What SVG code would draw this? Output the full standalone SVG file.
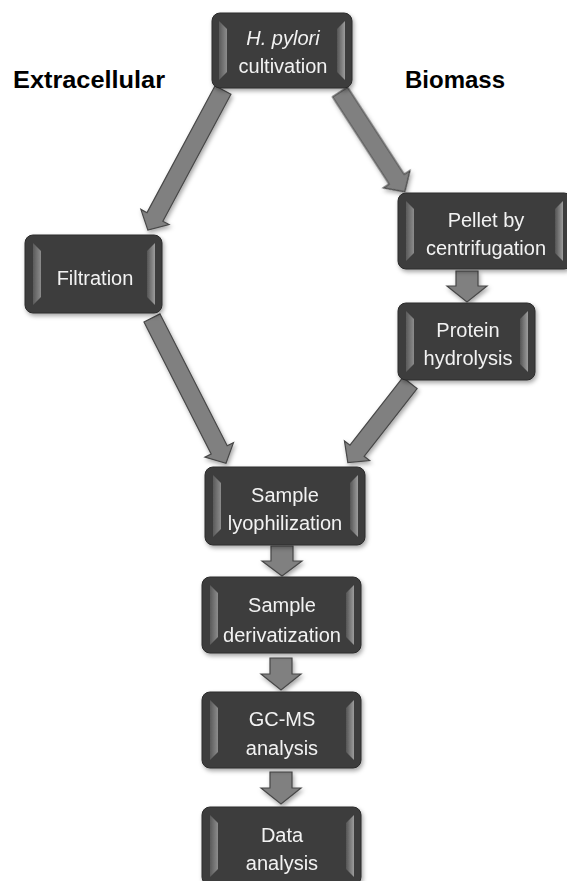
<svg xmlns="http://www.w3.org/2000/svg" width="567" height="881" viewBox="0 0 567 881">
<defs>
<style>
.box{fill:#3e3e3e;stroke:#2a2a2a;stroke-width:1}
.bl{fill:url(#gl)}
.br{fill:url(#gr)}
.t{font-family:"Liberation Sans",Arial,sans-serif;font-size:20px;fill:#f2f2f2;text-anchor:middle}
.h{font-family:"Liberation Sans",Arial,sans-serif;font-size:24px;font-weight:bold;fill:#000}
.arr{fill:#808080;stroke:#474747;stroke-width:1.2;stroke-linejoin:miter}
</style>
<linearGradient id="gl" x1="0" y1="0" x2="1" y2="0">
<stop offset="0" stop-color="#5a5a5a"/><stop offset="1" stop-color="#8c8c8c"/>
</linearGradient>
<linearGradient id="gr" x1="0" y1="0" x2="1" y2="0">
<stop offset="0" stop-color="#555555"/><stop offset="1" stop-color="#9c9c9c"/>
</linearGradient>
<filter id="sh" x="-20%" y="-20%" width="140%" height="140%">
<feDropShadow dx="1.5" dy="2.5" stdDeviation="2" flood-color="#000" flood-opacity="0.35"/>
</filter>
</defs>
<rect width="567" height="881" fill="#ffffff"/>

<text class="h" x="13" y="88" textLength="152" lengthAdjust="spacingAndGlyphs">Extracellular</text>
<text class="h" x="405" y="88">Biomass</text>

<g id="connectors" filter="url(#sh)">
<path class="arr" transform="translate(223,90) rotate(118.2)" d="M0,-9 L144,-9 L144,-16 L159,0 L144,16 L144,9 L0,9 Z"/>
<path class="arr" transform="translate(340,92) rotate(57)" d="M0,-9 L104,-9 L104,-16 L119,0 L104,16 L104,9 L0,9 Z"/>
<path class="arr" transform="translate(152,318) rotate(63)" d="M0,-9 L148,-9 L148,-16 L163,0 L148,16 L148,9 L0,9 Z"/>
<path class="arr" transform="translate(410,383) rotate(128)" d="M0,-9 L86,-9 L86,-16 L101,0 L86,16 L86,9 L0,9 Z"/>
<path class="arr" d="M456,271 H478 V286 H487 L467,302 L447,286 H456 Z"/>
<path class="arr" d="M271,546 H293 V561 H302 L282,576 L262,561 H271 Z"/>
<path class="arr" d="M270,658 H292 V674 H301 L281,690 L261,674 H270 Z"/>
<path class="arr" d="M270,772 H292 V788 H301 L281,804 L261,788 H270 Z"/>
</g>

<g id="n-cultivation" filter="url(#sh)">
<rect class="box" x="212" y="13" width="140" height="75" rx="8"/>
<polygon class="bl" points="219,21 227,29 227,72 219,80"/>
<polygon class="br" points="337,29 345,21 345,80 337,72"/>
<text class="t" x="283" y="45" font-style="italic">H. pylori</text>
<text class="t" x="283" y="73">cultivation</text>
</g>

<g id="n-filtration" filter="url(#sh)">
<rect class="box" x="25" y="235" width="137" height="78" rx="8"/>
<polygon class="bl" points="33,243 41,251 41,297 33,305"/>
<polygon class="br" points="147,251 155,243 155,305 147,297"/>
<text class="t" x="95" y="285">Filtration</text>
</g>

<g id="n-pellet" filter="url(#sh)">
<rect class="box" x="398" y="193" width="174" height="76" rx="8"/>
<polygon class="bl" points="406,201 414,209 414,253 406,261"/>
<polygon class="br" points="555,209 563,201 563,261 555,253"/>
<text class="t" x="486" y="227">Pellet by</text>
<text class="t" x="486" y="255">centrifugation</text>
</g>

<g id="n-protein" filter="url(#sh)">
<rect class="box" x="398" y="303" width="137" height="77" rx="8"/>
<polygon class="bl" points="406,311 414,319 414,364 406,372"/>
<polygon class="br" points="520,319 528,311 528,372 520,364"/>
<text class="t" x="468" y="337">Protein</text>
<text class="t" x="468" y="365">hydrolysis</text>
</g>

<g id="n-lyophilization" filter="url(#sh)">
<rect class="box" x="205" y="467" width="160" height="78" rx="8"/>
<polygon class="bl" points="213,475 221,483 221,529 213,537"/>
<polygon class="br" points="350,483 358,475 358,537 350,529"/>
<text class="t" x="285" y="502">Sample</text>
<text class="t" x="285" y="530">lyophilization</text>
</g>

<g id="n-derivatization" filter="url(#sh)">
<rect class="box" x="202" y="577" width="159" height="76" rx="8"/>
<polygon class="bl" points="210,585 218,593 218,637 210,645"/>
<polygon class="br" points="346,593 354,585 354,645 346,637"/>
<text class="t" x="282" y="612">Sample</text>
<text class="t" x="282" y="642">derivatization</text>
</g>

<g id="n-gcms" filter="url(#sh)">
<rect class="box" x="202" y="692" width="159" height="76" rx="8"/>
<polygon class="bl" points="210,700 218,708 218,752 210,760"/>
<polygon class="br" points="346,708 354,700 354,760 346,752"/>
<text class="t" x="282" y="726">GC-MS</text>
<text class="t" x="282" y="755">analysis</text>
</g>

<g id="n-data" filter="url(#sh)">
<rect class="box" x="202" y="807" width="159" height="78" rx="8"/>
<polygon class="bl" points="210,815 218,823 218,869 210,877"/>
<polygon class="br" points="346,823 354,815 354,877 346,869"/>
<text class="t" x="282" y="842">Data</text>
<text class="t" x="282" y="870">analysis</text>
</g>
</svg>
